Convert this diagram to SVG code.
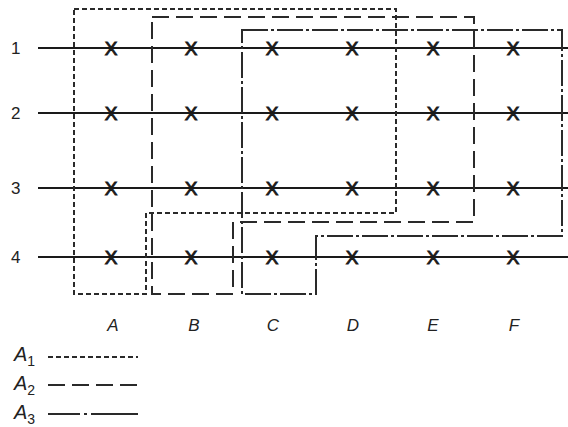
<svg xmlns="http://www.w3.org/2000/svg" width="568" height="427" viewBox="0 0 568 427">
<style>
.grid{stroke:#1a1a1a;stroke-width:2.2;fill:none}
.a1{stroke:#2a2a2a;stroke-width:2;fill:none;stroke-dasharray:5 3}
.a2{stroke:#2a2a2a;stroke-width:2;fill:none;stroke-dasharray:17 7}
.a3{stroke:#2a2a2a;stroke-width:2;fill:none;stroke-dasharray:26 3 3 3}
.x{font-family:"Liberation Sans",Arial,sans-serif;font-size:19px;fill:#1a1a1a;stroke:#1a1a1a;stroke-width:0.9;text-anchor:middle}
.row{font-family:"Liberation Sans",Arial,sans-serif;font-size:17px;fill:#222}
.col{font-family:"Liberation Sans",Arial,sans-serif;font-size:17px;font-style:italic;fill:#222;text-anchor:middle}
.leg{font-family:"Liberation Sans",Arial,sans-serif;font-size:20px;font-style:italic;fill:#222}
.sub{font-size:14px;font-style:normal}
</style>
<rect width="568" height="427" fill="#fff"/>
<g id="rows">
<line class="grid" x1="38" y1="48" x2="568" y2="48"/>
<line class="grid" x1="38" y1="113" x2="568" y2="113"/>
<line class="grid" x1="38" y1="188" x2="568" y2="188"/>
<line class="grid" x1="38" y1="257" x2="568" y2="257"/>
<text class="row" x="11" y="54">1</text>
<text class="row" x="11" y="119">2</text>
<text class="row" x="11" y="194">3</text>
<text class="row" x="11" y="263">4</text>
</g>
<g id="marks">
<text class="x" x="111" y="55">X</text><text class="x" x="191" y="55">X</text><text class="x" x="272" y="55">X</text><text class="x" x="352" y="55">X</text><text class="x" x="433" y="55">X</text><text class="x" x="513" y="55">X</text>
<text class="x" x="111" y="120">X</text><text class="x" x="191" y="120">X</text><text class="x" x="272" y="120">X</text><text class="x" x="352" y="120">X</text><text class="x" x="433" y="120">X</text><text class="x" x="513" y="120">X</text>
<text class="x" x="111" y="195">X</text><text class="x" x="191" y="195">X</text><text class="x" x="272" y="195">X</text><text class="x" x="352" y="195">X</text><text class="x" x="433" y="195">X</text><text class="x" x="513" y="195">X</text>
<text class="x" x="111" y="264">X</text><text class="x" x="191" y="264">X</text><text class="x" x="272" y="264">X</text><text class="x" x="352" y="264">X</text><text class="x" x="433" y="264">X</text><text class="x" x="513" y="264">X</text>
</g>
<g id="connectors">
<path id="A1" class="a1" d="M74,9 H396 V213 H146 V294 H74 Z"/>
<path id="A2" class="a2" d="M152,17 H474 V222 H233 V294 H152 Z"/>
<path id="A3" class="a3" d="M242,30 H562 V236 H316 V294 H242 Z"/>
</g>
<g id="columns">
<text class="col" x="113" y="331">A</text>
<text class="col" x="194" y="331">B</text>
<text class="col" x="273" y="331">C</text>
<text class="col" x="353" y="331">D</text>
<text class="col" x="433" y="331">E</text>
<text class="col" x="514" y="331">F</text>
</g>
<g id="legend">
<text class="leg" x="14" y="361">A<tspan class="sub" dy="5">1</tspan></text>
<text class="leg" x="14" y="390">A<tspan class="sub" dy="5">2</tspan></text>
<text class="leg" x="14" y="419">A<tspan class="sub" dy="5">3</tspan></text>
<line class="a1" stroke-dasharray="7 4.4" x1="48" y1="357" x2="138" y2="357"/>
<line class="a2" stroke-dasharray="24 10" x1="48" y1="385" x2="138" y2="385"/>
<line stroke="#2a2a2a" stroke-width="2" stroke-dasharray="32 4 3 4 60" x1="48" y1="414" x2="138" y2="414"/>
</g>
</svg>
